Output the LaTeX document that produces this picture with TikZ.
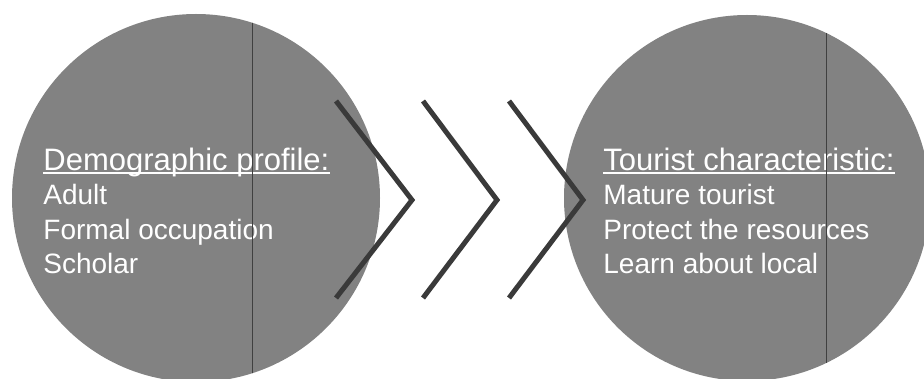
\documentclass[tikz,border=0pt]{standalone}
\usepackage{fontspec}
\setmainfont{Liberation Sans}
\usetikzlibrary{positioning, calc}

\definecolor{bubblegray}{HTML}{828282}
\definecolor{chevrongray}{HTML}{3A3A3A}

\begin{document}
\begin{tikzpicture}[x=1pt, y=-1pt, thick]
            % Define block styles
            \tikzstyle{bubble} = [circle, fill=bubblegray, inner sep=0pt, minimum size=368pt]
            \tikzstyle{heading} = [anchor=base west, inner sep=0pt, text=white, font=\fontsize{31}{37}\selectfont]
            \tikzstyle{item} = [anchor=base west, inner sep=0pt, text=white, font=\fontsize{28}{34}\selectfont]
            \tikzstyle{chevron} = [draw=chevrongray, line width=5pt]
            \tikzstyle{divider} = [draw=black!75, line width=0.8pt]

            \useasboundingbox (0,0) rectangle (924,379);

            % Place circles
            \node [bubble] (demography) at (196,198) {};
            \node [bubble, minimum size=366pt] (tourist) at (747,198) {};

            % Left text
            \node [heading] (demo_title) at (43,170.7) {Demographic profile:};
            \node [item] (adult) at ($(demo_title.base west)+(0,34)$) {Adult};
            \node [item] (occupation) at ($(adult.base west)+(0,34.5)$) {Formal occupation};
            \node [item] (scholar) at ($(occupation.base west)+(0,34)$) {Scholar};
            \draw [white, line width=1.8pt] ($(demo_title.base west)+(0,2.6)$) -- ($(demo_title.base east)+(0,2.6)$);

            % Right text
            \node [heading] (tourist_title) at (603,170.7) {Tourist characteristic:};
            \node [item] (mature) at ($(tourist_title.base west)+(0,34)$) {Mature tourist};
            \node [item] (protect) at ($(mature.base west)+(0,34.5)$) {Protect the resources};
            \node [item] (learn) at ($(protect.base west)+(0,34)$) {Learn about local};
            \draw [white, line width=1.8pt] ($(tourist_title.base west)+(0,2.6)$) -- ($(tourist_title.base east)+(0,2.6)$);

            % Thin vertical lines inside the circles
            \begin{scope}
                \clip (demography.center) circle (184);
                \draw [divider] (252,0) -- (252,379);
            \end{scope}
            \begin{scope}
                \clip (tourist.center) circle (183);
                \draw [divider] (826,0) -- (826,379);
            \end{scope}

            % Draw chevrons
            \draw [chevron] (336,101) -- (412,200) -- (336,298);
            \draw [chevron] (423,101) -- (497,200) -- (423,298);
            \draw [chevron] (509,101) -- (583,200) -- (509,298);
        \end{tikzpicture}
\end{document}
